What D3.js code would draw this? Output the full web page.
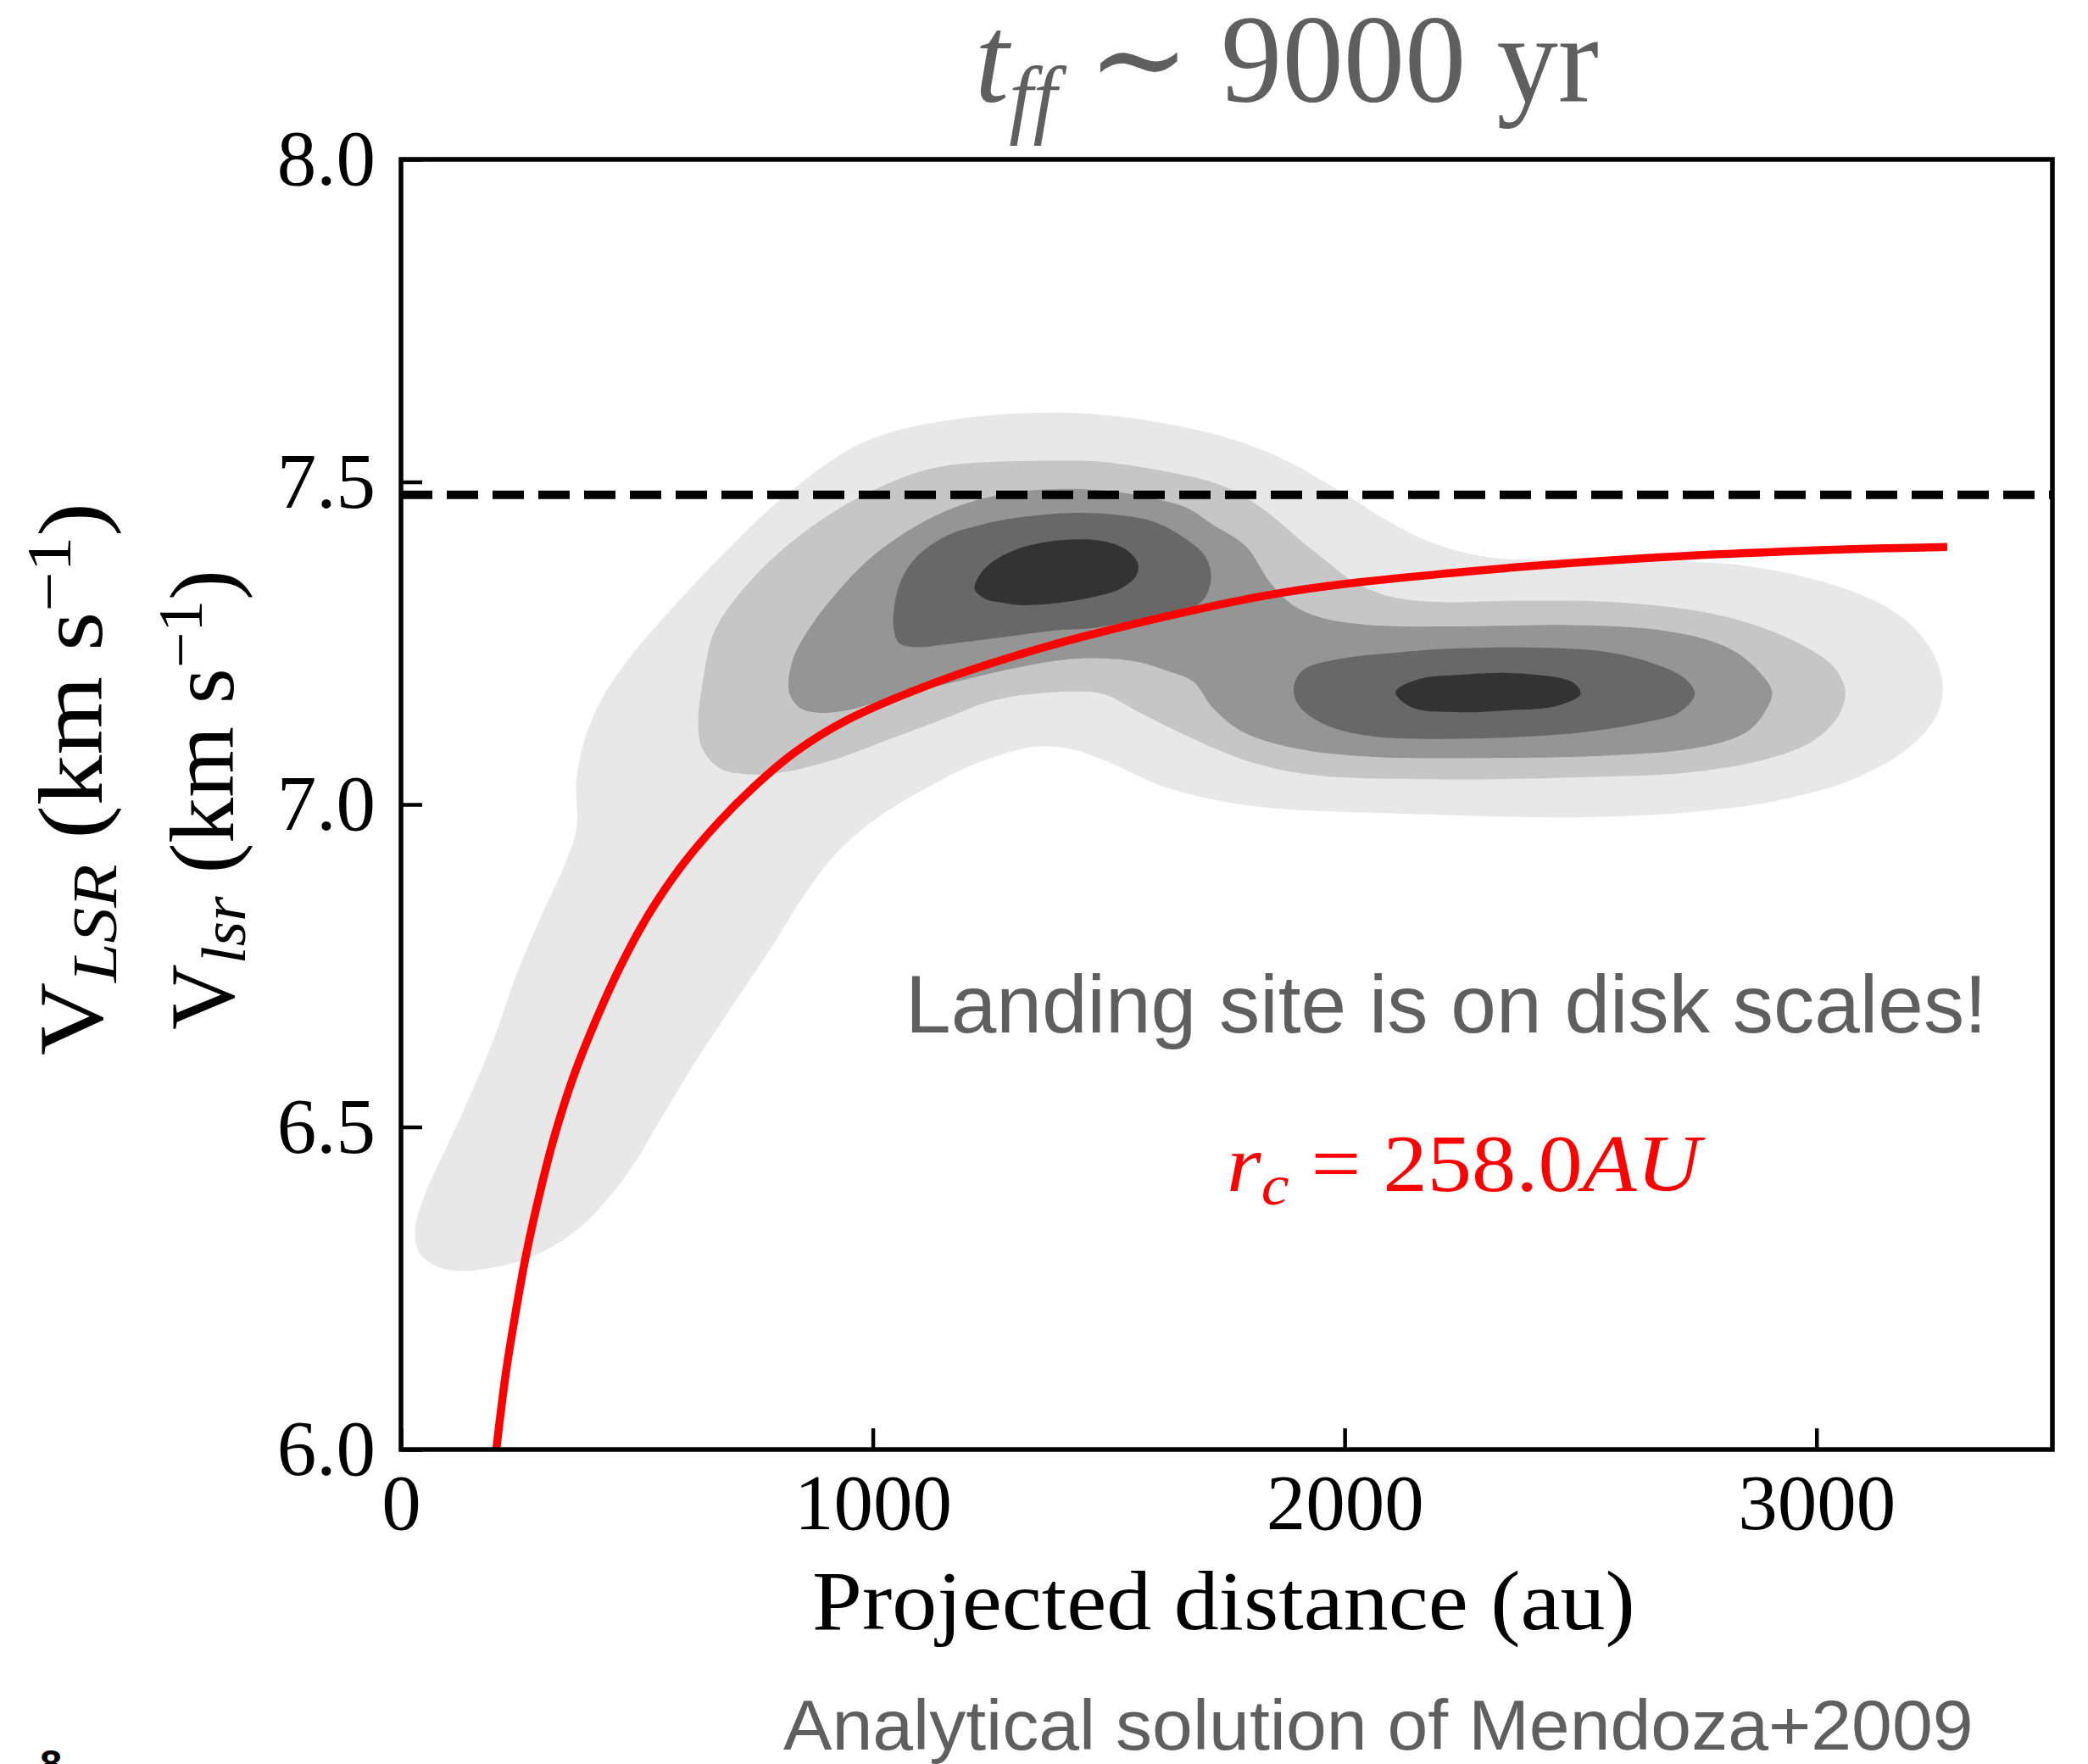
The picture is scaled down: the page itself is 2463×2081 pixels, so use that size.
<!DOCTYPE html>
<html>
<head>
<meta charset="utf-8">
<script src="https://cdn.jsdelivr.net/npm/d3@7"></script>
<style>
  html, body { margin: 0; padding: 0; background: #ffffff; }
  svg { display: block; }
</style>
</head>
<body>
<script>
// ---------------- data ----------------
const xTicks = [0, 1000, 2000, 3000];
const yTicks = [6.0, 6.5, 7.0, 7.5, 8.0];
const xDomain = [0, 3500];
const yDomain = [6.0, 8.0];

// systemic velocity (km/s)
const vSystemic = 7.48;

// analytical infall model (Mendoza+2009), projected distance (au) vs V_lsr (km/s)
const modelDistance = [202, 222, 241, 266, 296, 325, 365, 414, 463, 522, 591, 670, 749, 837, 946, 1129, 1300, 1488, 1866, 2245, 2622, 3000, 3277];
const modelVelocity = [6.000, 6.117, 6.204, 6.305, 6.403, 6.485, 6.577, 6.667, 6.746, 6.826, 6.901, 6.970, 7.028, 7.082, 7.131, 7.188, 7.230, 7.268, 7.328, 7.360, 7.381, 7.394, 7.399];

// KDE filled-contour outlines, [au, km/s], from the lowest to the highest density level
const kdeLevel1 = [[372,7.039],[389,7.100],[424,7.162],[481,7.224],[573,7.303],[687,7.391],[802,7.471],[973,7.559],[1145,7.594],[1420,7.607],[1678,7.582],[1841,7.545],[1992,7.485],[2093,7.439],[2181,7.407],[2307,7.383],[2496,7.379],[2685,7.377],[2849,7.370],[3000,7.348],[3114,7.319],[3195,7.282],[3246,7.236],[3267,7.189],[3258,7.143],[3202,7.092],[3088,7.042],[2937,7.009],[2748,6.989],[2496,6.980],[2118,6.986],[1866,6.993],[1740,7.005],[1615,7.028],[1489,7.069],[1418,7.086],[1340,7.089],[1221,7.064],[1103,7.021],[1005,6.977],[926,6.927],[857,6.862],[788,6.782],[709,6.695],[630,6.608],[552,6.514],[493,6.442],[433,6.384],[374,6.341],[296,6.305],[227,6.287],[138,6.277],[79,6.283],[39,6.305],[30,6.341],[49,6.392],[98,6.471],[148,6.551],[197,6.637],[246,6.739],[296,6.825],[350,6.912],[372,6.963]];

const kdeLevel2 = [[630,7.118],[641,7.197],[664,7.268],[721,7.330],[802,7.391],[916,7.453],[1031,7.497],[1145,7.524],[1420,7.533],[1489,7.531],[1615,7.517],[1741,7.494],[1829,7.457],[1904,7.411],[1967,7.374],[2018,7.346],[2093,7.323],[2194,7.314],[2370,7.316],[2559,7.314],[2748,7.300],[2874,7.277],[2975,7.245],[3038,7.212],[3061,7.176],[3048,7.139],[3000,7.102],[2912,7.074],[2748,7.051],[2496,7.042],[2181,7.039],[1929,7.046],[1804,7.065],[1678,7.102],[1564,7.143],[1489,7.171],[1420,7.175],[1260,7.162],[1145,7.131],[1031,7.100],[916,7.069],[802,7.049],[733,7.047],[676,7.056],[641,7.083]];

const kdeLevel3 = [[823,7.173],[831,7.226],[871,7.279],[927,7.331],[992,7.380],[1072,7.423],[1152,7.454],[1232,7.474],[1312,7.485],[1432,7.489],[1540,7.482],[1615,7.471],[1668,7.459],[1720,7.434],[1791,7.400],[1841,7.345],[1892,7.308],[1948,7.290],[2055,7.278],[2244,7.276],[2486,7.278],[2661,7.271],[2778,7.253],[2836,7.233],[2883,7.202],[2906,7.174],[2887,7.139],[2849,7.111],[2748,7.088],[2559,7.076],[2307,7.072],[2055,7.074],[1902,7.086],[1785,7.112],[1720,7.150],[1680,7.190],[1620,7.208],[1553,7.222],[1432,7.226],[1312,7.213],[1152,7.186],[1032,7.164],[952,7.147],[887,7.142],[847,7.149]];

const kdeLevel4a = [[1044,7.274],[1044,7.296],[1056,7.340],[1088,7.380],[1152,7.415],[1232,7.434],[1312,7.445],[1432,7.452],[1513,7.449],[1593,7.439],[1657,7.415],[1705,7.384],[1717,7.353],[1705,7.322],[1681,7.307],[1593,7.292],[1473,7.274],[1392,7.270],[1272,7.259],[1152,7.248],[1096,7.244],[1056,7.250]];
const kdeLevel4b = [[1892,7.180],[1904,7.152],[1955,7.125],[2055,7.106],[2244,7.102],[2496,7.111],[2647,7.129],[2710,7.143],[2742,7.171],[2723,7.194],[2660,7.217],[2559,7.236],[2408,7.243],[2244,7.242],[2118,7.236],[1992,7.226],[1911,7.208]];

const kdeLevel5a = [[1216,7.333],[1224,7.353],[1248,7.373],[1296,7.393],[1360,7.406],[1432,7.411],[1489,7.408],[1537,7.395],[1562,7.373],[1557,7.353],[1521,7.333],[1457,7.320],[1376,7.311],[1312,7.309],[1264,7.314],[1240,7.318]];
const kdeLevel5b = [[2108,7.174],[2144,7.150],[2244,7.143],[2345,7.146],[2446,7.152],[2500,7.171],[2484,7.189],[2370,7.203],[2244,7.201],[2156,7.194]];

const kdeLevels = [[kdeLevel1], [kdeLevel2], [kdeLevel3], [kdeLevel4a, kdeLevel4b], [kdeLevel5a, kdeLevel5b]];
const kdeFills = ["#e8e8e8", "#c6c6c6", "#959595", "#686868", "#333333"];

// ---------------- layout ----------------
const W = 2463, H = 2081;
const plot = { left: 473, right: 2421, top: 188, bottom: 1710 };
const SERIF = "'Liberation Serif', 'DejaVu Serif', serif";
const SANS = "'Liberation Sans', Arial, Helvetica, sans-serif";
const GREY_TEXT = "#5f5f5f";

const x = d3.scaleLinear().domain(xDomain).range([plot.left, plot.right]);
const y = d3.scaleLinear().domain(yDomain).range([plot.bottom, plot.top]);

const svg = d3.select("body").append("svg")
  .attr("width", W).attr("height", H)
  .attr("viewBox", `0 0 ${W} ${H}`);

svg.append("rect").attr("width", W).attr("height", H).attr("fill", "#ffffff");

svg.append("defs").append("clipPath").attr("id", "plot-clip")
  .append("rect")
  .attr("x", plot.left).attr("y", plot.top)
  .attr("width", plot.right - plot.left).attr("height", plot.bottom - plot.top);

const inner = svg.append("g").attr("clip-path", "url(#plot-clip)");

// filled density contours
const contourLine = d3.line()
  .x(d => x(d[0])).y(d => y(d[1]))
  .curve(d3.curveCatmullRomClosed.alpha(0.5));

kdeLevels.forEach((polys, i) => {
  inner.append("g").selectAll("path").data(polys).join("path")
    .attr("d", contourLine)
    .attr("fill", kdeFills[i])
    .attr("stroke", "none");
});

// systemic velocity
inner.append("line")
  .attr("x1", x(xDomain[0])).attr("x2", x(xDomain[1]))
  .attr("y1", y(vSystemic)).attr("y2", y(vSystemic))
  .attr("stroke", "#000000").attr("stroke-width", 10)
  .attr("stroke-dasharray", "37,17");

// analytical model curve
const model = modelDistance.map((d, i) => [d, modelVelocity[i]]);
inner.append("path")
  .datum(model)
  .attr("d", d3.line().x(d => x(d[0])).y(d => y(d[1])).curve(d3.curveCatmullRom.alpha(0.5)))
  .attr("fill", "none")
  .attr("stroke", "#ff0000")
  .attr("stroke-width", 9.5)
  .attr("stroke-linecap", "butt");

// axes with inward ticks
const yAxis = d3.axisLeft(y).tickValues(yTicks).tickFormat(d3.format(".1f"))
  .tickSizeInner(-25).tickSizeOuter(0).tickPadding(30);
const xAxis = d3.axisBottom(x).tickValues(xTicks).tickFormat(d3.format("d"))
  .tickSizeInner(-25).tickSizeOuter(0).tickPadding(28);

function styleAxis(g) {
  g.select(".domain").remove();
  g.attr("font-family", SERIF).attr("font-size", 93);
  g.selectAll(".tick line").attr("stroke", "#000").attr("stroke-width", 4.5);
  g.selectAll(".tick text").attr("fill", "#000");
}
svg.append("g").attr("transform", `translate(${plot.left},0)`).call(yAxis).call(styleAxis);
svg.append("g").attr("transform", `translate(0,${plot.bottom})`).call(xAxis).call(styleAxis);

// frame
svg.append("rect")
  .attr("x", plot.left).attr("y", plot.top)
  .attr("width", plot.right - plot.left).attr("height", plot.bottom - plot.top)
  .attr("fill", "none").attr("stroke", "#000").attr("stroke-width", 5.5);

// ---------------- text ----------------
function richText(parent, family, fill, parts) {
  const t = parent.append("text")
    .attr("font-family", family).attr("fill", fill)
    .attr("x", 0).attr("y", 0);
  parts.forEach(p => {
    const ts = t.append("tspan").text(p.t).attr("font-size", p.size);
    if (p.italic) ts.attr("font-style", "italic");
    if (p.weight) ts.attr("font-weight", p.weight);
    if (p.dy) ts.attr("dy", p.dy);
  });
  return t;
}

// horizontal text stretched to span [left, right] with the given baseline
function placeSpan(family, fill, parts, left, right, baseline) {
  const g = svg.append("g");
  const t = richText(g, family, fill, parts);
  const bb = t.node().getBBox();
  const s = (right - left) / bb.width;
  g.attr("transform", `translate(${left},${baseline}) scale(${s},1) translate(${-bb.x},0)`);
  return g;
}

// vertical (bottom-to-top) text spanning [yStart, yEnd] with its baseline at xBase
function placeVertical(family, fill, parts, xBase, yStart, yEnd) {
  const g = svg.append("g");
  const t = richText(g, family, fill, parts);
  const bb = t.node().getBBox();
  const s = (yStart - yEnd) / bb.width;
  g.attr("transform", `translate(${xBase},${yStart}) rotate(-90) scale(${s},1) translate(${-bb.x},0)`);
  return g;
}

const NB = "\u00A0";

// title
placeSpan(SERIF, GREY_TEXT, [
  { t: "t", size: 148, italic: true },
  { t: "ff", size: 104, italic: true, dy: 30 },
  { t: NB + "\u223C" + NB + "9000" + NB + "yr", size: 148, dy: -30 }
], 1150, 1886, 120);

// x label
placeSpan(SERIF, "#000", [{ t: "Projected distance (au)", size: 100 }], 958, 1929, 1922);

// y labels
placeVertical(SERIF, "#000", [
  { t: "V", size: 107 },
  { t: "LSR", size: 75, italic: true, dy: 17 },
  { t: NB + "(km" + NB + "s", size: 107, dy: -17 },
  { t: "\u22121", size: 75, dy: -37 },
  { t: ")", size: 107, dy: 37 }
], 120, 1245, 593);

placeVertical(SERIF, "#000", [
  { t: "V", size: 107 },
  { t: "lsr", size: 75, italic: true, dy: 14 },
  { t: NB + "(km" + NB + "s", size: 107, dy: -14 },
  { t: "\u22121", size: 75, dy: -37 },
  { t: ")", size: 107, dy: 37 }
], 275, 1215, 672);

// annotations
placeSpan(SANS, GREY_TEXT, [{ t: "Landing site is on disk scales!", size: 96 }], 1068, 2344, 1218);

placeSpan(SERIF, "#ff0000", [
  { t: "r", size: 95, italic: true },
  { t: "c", size: 67, italic: true, dy: 16 },
  { t: NB + "=" + NB + "258.0", size: 95, dy: -16 },
  { t: "AU", size: 95, italic: true }
], 1447, 2012, 1405);

placeSpan(SANS, GREY_TEXT, [{ t: "Analytical solution of Mendoza+2009", size: 83 }], 924, 2328, 2064);

// panel marker at the lower-left edge
svg.append("text")
  .attr("x", 60).attr("y", 2097)
  .attr("text-anchor", "middle")
  .attr("font-family", SANS).attr("font-weight", "bold").attr("font-size", 47)
  .attr("fill", "#000").text("8");
</script>
</body>
</html>
